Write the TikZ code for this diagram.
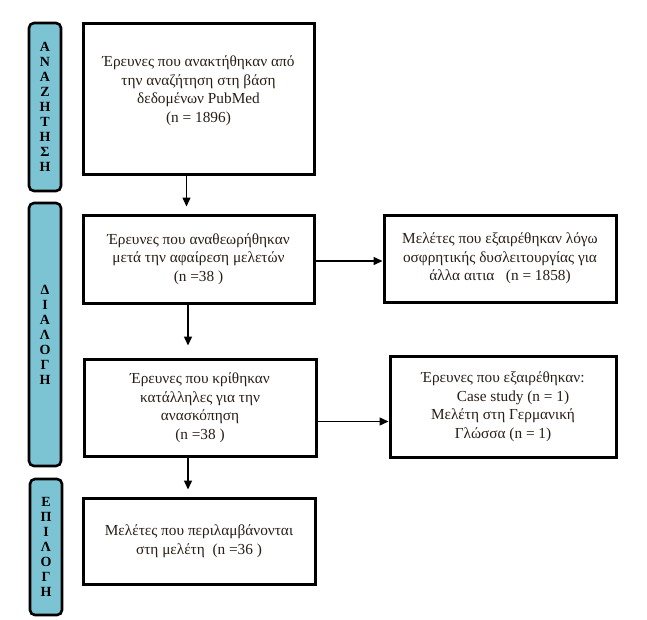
\documentclass[tikz,border=0pt]{standalone}
\usepackage{fontspec}
\setmainfont{Liberation Serif}
\usetikzlibrary{arrows.meta}
\definecolor{sideblue}{RGB}{124,196,212}
\definecolor{txt}{RGB}{40,30,22}
\begin{document}
\begin{tikzpicture}[x=1pt,y=-1pt,
  mainbox/.style={draw=black,line width=3pt,fill=white,inner sep=2pt,
    align=center,text=txt,font=\fontsize{15.3}{18.5}\selectfont},
  sidebox/.style={draw=black,line width=2.6pt,fill=sideblue,rounded corners=5pt,
    minimum width=32pt,align=center,inner sep=0pt,
    font=\bfseries\fontsize{14}{15}\selectfont},
  arr/.style={line width=1.4pt,-{Triangle[length=9pt,width=8pt]}}]
\useasboundingbox (0,0) rectangle (647,619);
% side labels
\node[sidebox,minimum height=168pt] (s1) at (45,107) {Α\\Ν\\Α\\Ζ\\Η\\Τ\\Η\\Σ\\Η};
\node[sidebox,minimum height=263pt] (s2) at (45,334.5) {Δ\\Ι\\Α\\Λ\\Ο\\Γ\\Η};
\node[sidebox,minimum height=136pt] (s3) at (46,547) {Ε\\Π\\Ι\\Λ\\Ο\\Γ\\Η};
% main boxes
\node[mainbox,minimum width=231pt,minimum height=151pt] (b1) at (198.5,98.5)
  {Έρευνες που ανακτήθηκαν από\\την αναζήτηση στη βάση\\δεδομένων PubMed\\(n = 1896)\\[0pt]};
\node[mainbox,minimum width=231pt,minimum height=88pt] (b2) at (198.5,259)
  {Έρευνες που αναθεωρήθηκαν\\μετά την αφαίρεση μελετών\\(n =38 )};
\node[mainbox,minimum width=232pt,minimum height=97pt] (b3) at (200,407.5)
  {Έρευνες που κρίθηκαν\\κατάλληλες για την\\ανασκόπηση\\(n =38 )};
\node[mainbox,minimum width=232pt,minimum height=86pt] (b4) at (199,541)
  {Μελέτες που περιλαμβάνονται\\στη μελέτη\ \ (n =36 )};
\node[mainbox,minimum width=232pt,minimum height=87pt] (r1) at (500,258.5)
  {Μελέτες που εξαιρέθηκαν λόγω\\οσφρητικής δυσλειτουργίας για\\άλλα αιτια\ \ \ (n = 1858)};
\node[mainbox,minimum width=226pt,minimum height=101pt] (r2) at (503,406.5)
  {Έρευνες που εξαιρέθηκαν:\\\hspace*{20pt}Case study (n = 1)\\Μελέτη στη Γερμανική\\Γλώσσα (n = 1)};
% connectors
\draw[arr,shorten >=7pt] ([xshift=-12pt]b1.south) -- ([xshift=-12pt]b1.south |- b2.north);
\draw[arr,shorten >=12pt] ([xshift=-10.5pt]b2.south) -- ([xshift=-10.5pt]b2.south |- b3.north);
\draw[arr,shorten >=7pt] ([xshift=-12pt]b3.south) -- ([xshift=-12pt]b3.south |- b4.north);
\draw[arr] ([yshift=-2pt]b2.east) -- ([yshift=-2pt]b2.east -| r1.west);
\draw[arr] ([yshift=-14pt]b3.east) -- ([yshift=-14pt]b3.east -| r2.west);
\end{tikzpicture}
\end{document}
